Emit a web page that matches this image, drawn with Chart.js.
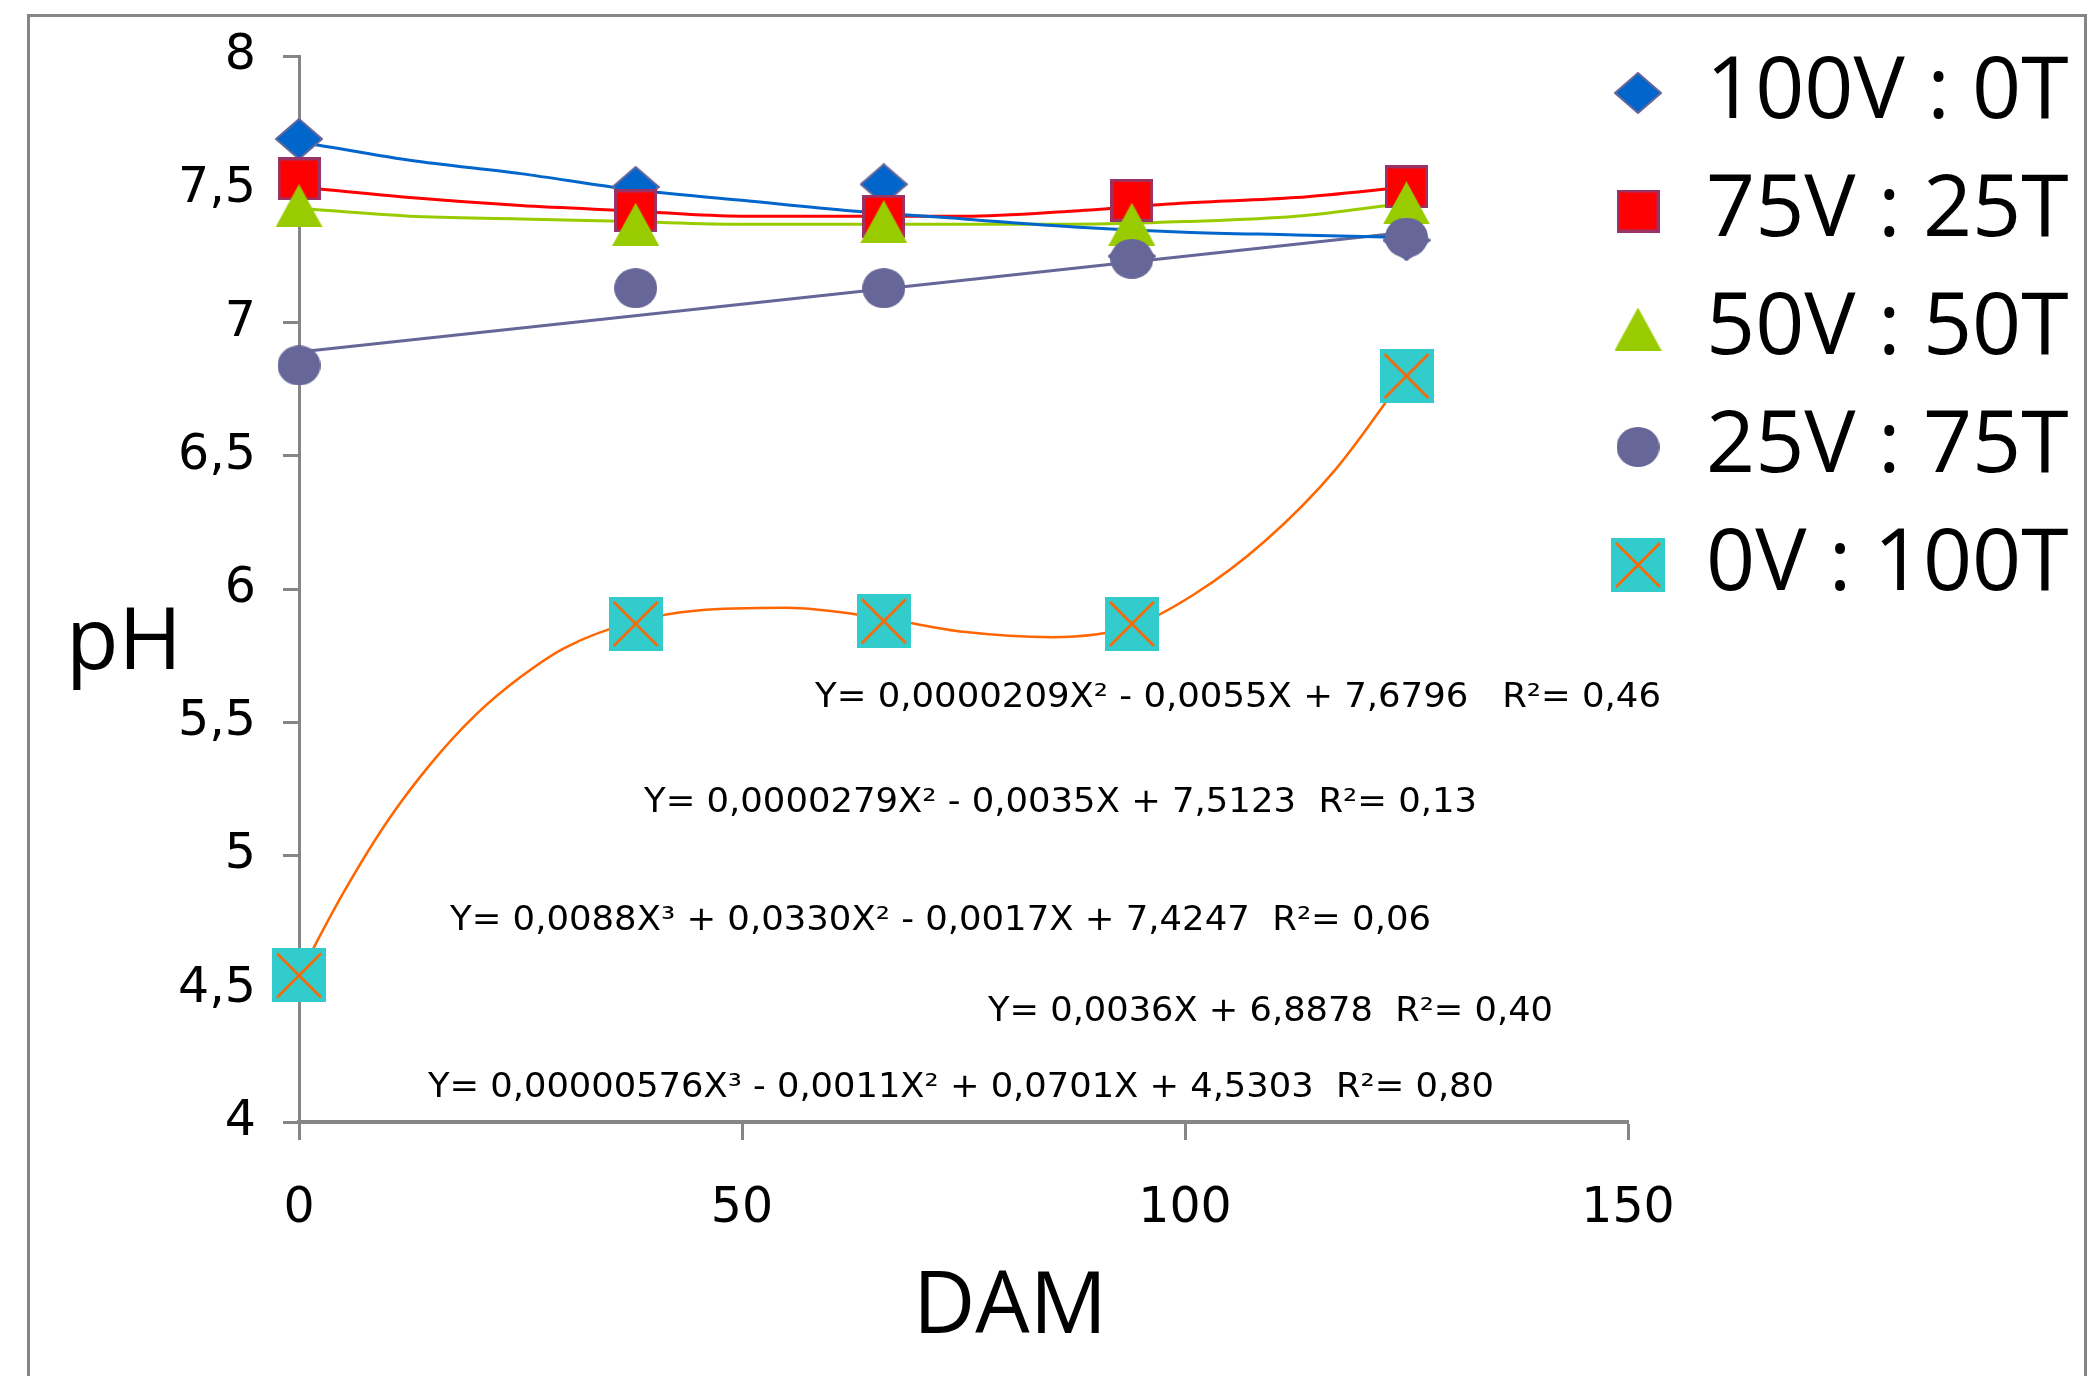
<!DOCTYPE html>
<html>
<head>
<meta charset="utf-8">
<script src="https://cdn.jsdelivr.net/npm/chart.js@4.4.1/dist/chart.umd.min.js"></script>
<style>
  html, body { margin: 0; padding: 0; background: #fff; }
  canvas { display: block; }
</style>
</head>
<body>
<canvas id="myChart" width="2087" height="1376"></canvas>
<script>
// sampling days (DAM) and pH per mix
var days = [0, 38, 66, 94, 125];
var ph100V = [7.69, 7.51, 7.52, 7.25, 7.31];
var ph75V = [7.54, 7.42, 7.40, 7.46, 7.51];
var ph50V = [7.44, 7.37, 7.38, 7.37, 7.45];
var ph25V = [6.84, 7.13, 7.13, 7.24, 7.32];
var ph0V = [4.55, 5.87, 5.88, 5.87, 6.80];

var seriesNames = ['100V : 0T', '75V : 25T', '50V : 50T', '25V : 75T', '0V : 100T'];

// trend lines
var trendDays = [0, 12.5, 25, 37.5, 50, 62.5, 75, 87.5, 100, 112.5, 125];
var trend100V = [7.68, 7.61, 7.56, 7.50, 7.46, 7.42, 7.39, 7.36, 7.34, 7.33, 7.32];
var trend75V = [7.51, 7.47, 7.44, 7.42, 7.40, 7.40, 7.40, 7.42, 7.45, 7.47, 7.51];
var trend50V = [7.43, 7.40, 7.39, 7.38, 7.37, 7.37, 7.37, 7.37, 7.38, 7.40, 7.45];
var trend25VDays = [0, 125];
var trend25V = [6.89, 7.34];
var trend0VDays = [0, 5, 10, 15, 20, 25, 30, 38, 45, 55, 66, 75, 85, 94, 101, 109, 117, 125];
var trend0V = [4.55, 4.86, 5.13, 5.35, 5.53, 5.67, 5.78, 5.88, 5.92, 5.93, 5.89, 5.84, 5.82, 5.86, 5.98, 6.18, 6.45, 6.81];

var equations = [
  'Y= 0,0000209X\u00b2 - 0,0055X + 7,6796   R\u00b2= 0,46',
  'Y= 0,0000279X\u00b2 - 0,0035X + 7,5123  R\u00b2= 0,13',
  'Y= 0,0088X\u00b3 + 0,0330X\u00b2 - 0,0017X + 7,4247  R\u00b2= 0,06',
  'Y= 0,0036X + 6,8878  R\u00b2= 0,40',
  'Y= 0,00000576X\u00b3 - 0,0011X\u00b2 + 0,0701X + 4,5303  R\u00b2= 0,80'
];

var axisColor = '#868686';
var titleFont = '86px "Open Sans"';

function pts(xs, ys) {
  return xs.map(function (x, i) { return { x: x, y: ys[i] }; });
}

// marker images
function makeMarker(w, h, paint) {
  var c = document.createElement('canvas');
  c.width = w; c.height = h;
  paint(c.getContext('2d'), w, h);
  return c;
}
var diamond = makeMarker(48, 42, function (g, w, h) {
  g.beginPath();
  g.moveTo(w / 2, 1); g.lineTo(w - 1, h / 2); g.lineTo(w / 2, h - 1); g.lineTo(1, h / 2);
  g.closePath();
  g.fillStyle = '#0066CC'; g.fill();
  g.lineWidth = 2; g.strokeStyle = '#666699'; g.stroke();
});
var square = makeMarker(43, 43, function (g, w, h) {
  g.fillStyle = '#993366'; g.fillRect(0, 0, w, h);
  g.fillStyle = '#FF0000'; g.fillRect(3, 3, w - 6, h - 6);
});
var triangle = makeMarker(47, 43, function (g, w, h) {
  g.beginPath();
  g.moveTo(w / 2, 0); g.lineTo(w, h); g.lineTo(0, h);
  g.closePath();
  g.fillStyle = '#99CC00'; g.fill();
});
var circle = makeMarker(43, 40, function (g, w, h) {
  g.beginPath();
  g.ellipse(w / 2, h / 2, w / 2, h / 2, 0, 0, Math.PI * 2);
  g.fillStyle = '#666699'; g.fill();
});
var crossBox = makeMarker(54, 54, function (g, w, h) {
  g.fillStyle = '#33CCCC'; g.fillRect(0, 0, w, h);
  g.strokeStyle = '#FF6600'; g.lineWidth = 2.5;
  g.beginPath();
  g.moveTo(5, 5); g.lineTo(w - 5, h - 5);
  g.moveTo(w - 5, 5); g.lineTo(5, h - 5);
  g.stroke();
});

function markerSet(label, ys, img, order) {
  return {
    label: label,
    data: pts(days, ys),
    pointStyle: img,
    pointRadius: 24,
    showLine: false,
    clip: false,
    order: order
  };
}
function trendSet(xs, ys, color, width) {
  return {
    label: 'trend',
    data: pts(xs, ys),
    showLine: true,
    borderColor: color,
    borderWidth: width,
    pointRadius: 0,
    cubicInterpolationMode: 'monotone',
    clip: false,
    order: 10
  };
}

var frame = {
  id: 'frame',
  beforeDraw: function (chart) {
    var ctx = chart.ctx;
    ctx.save();
    ctx.fillStyle = '#fff';
    ctx.fillRect(0, 0, chart.width, chart.height);
    ctx.strokeStyle = axisColor;
    ctx.lineWidth = 3;
    ctx.strokeRect(28.5, 15.5, 2057, 1420);
    ctx.restore();
  }
};

// move the legend to the upper right, outside the plot
var legendSpot = {
  id: 'legendSpot',
  afterLayout: function (chart) {
    var lg = chart.legend;
    var w = lg.right - lg.left, h = lg.bottom - lg.top;
    lg.left = 1613 - 32; lg.right = lg.left + w;
    lg.top = 18; lg.bottom = lg.top + h;
  }
};

var labels = {
  id: 'labels',
  afterDraw: function (chart) {
    var ctx = chart.ctx;
    ctx.save();
    ctx.fillStyle = '#000';
    ctx.textAlign = 'center';
    ctx.textBaseline = 'alphabetic';
    ctx.font = titleFont;
    ctx.fillText('pH', 124, 669);
    ctx.fillText('DAM', 1010, 1333);

    // trend equations
    var place = [
      { x: 815, y: 707, right: 1661 },
      { x: 644, y: 812, right: 1477 },
      { x: 450, y: 930, right: 1431 },
      { x: 988, y: 1021, right: 1553 },
      { x: 428, y: 1097, right: 1494 }
    ];
    ctx.font = '33px "DejaVu Sans"';
    ctx.textAlign = 'left';
    equations.forEach(function (t, i) {
      var p = place[i];
      var m = ctx.measureText(t).width;
      ctx.save();
      ctx.translate(p.x, p.y);
      ctx.scale((p.right - p.x) / m, 1);
      ctx.fillText(t, 0, 0);
      ctx.restore();
    });
    ctx.restore();
  }
};

function draw() {
  var ctx = document.getElementById('myChart');
  var myChart = new Chart(ctx, {
    type: 'scatter',
    data: {
      datasets: [
        markerSet(seriesNames[0], ph100V, diamond, 5),
        markerSet(seriesNames[1], ph75V, square, 4),
        markerSet(seriesNames[2], ph50V, triangle, 3),
        markerSet(seriesNames[3], ph25V, circle, 2),
        markerSet(seriesNames[4], ph0V, crossBox, 1),
        trendSet(trendDays, trend100V, '#0066CC', 3),
        trendSet(trendDays, trend75V, '#FF0000', 3),
        trendSet(trendDays, trend50V, '#99CC00', 3),
        trendSet(trend25VDays, trend25V, '#666699', 3),
        trendSet(trend0VDays, trend0V, '#FF6600', 2.5)
      ]
    },
    options: {
      responsive: false,
      devicePixelRatio: 1,
      animation: false,
      layout: { padding: { left: 0, top: 56, right: 459, bottom: 0 } },
      plugins: {
        tooltip: { enabled: false },
        legend: {
          position: 'chartArea',
          align: 'start',
          labels: {
            usePointStyle: true,
            boxWidth: 50,
            boxHeight: 50,
            padding: 32,
            color: '#000',
            font: { family: 'Open Sans', size: 86 },
            filter: function (item) { return item.datasetIndex < 5; },
            sort: function (a, b) { return a.datasetIndex - b.datasetIndex; }
          }
        }
      },
      scales: {
        x: {
          type: 'linear',
          min: 0, max: 150,
          afterFit: function (s) { s.height = 254; },
          border: { color: axisColor, width: 4 },
          grid: { drawOnChartArea: false, tickLength: 18, tickWidth: 3, tickColor: axisColor },
          ticks: { stepSize: 50, padding: 40, color: '#000', font: { family: 'DejaVu Sans', size: 49 } }
        },
        y: {
          min: 4, max: 8,
          afterFit: function (s) { s.width = 299; },
          border: { color: axisColor, width: 3 },
          grid: { drawOnChartArea: false, tickLength: 16, tickWidth: 3, tickColor: axisColor },
          ticks: {
            stepSize: 0.5, padding: 27, color: '#000',
            font: { family: 'DejaVu Sans', size: 49 },
            callback: function (v) { return String(v).replace('.', ','); }
          }
        }
      }
    },
    plugins: [frame, legendSpot, labels]
  });
  return myChart;
}

document.fonts.load(titleFont).then(draw, draw);
</script>
</body>
</html>
